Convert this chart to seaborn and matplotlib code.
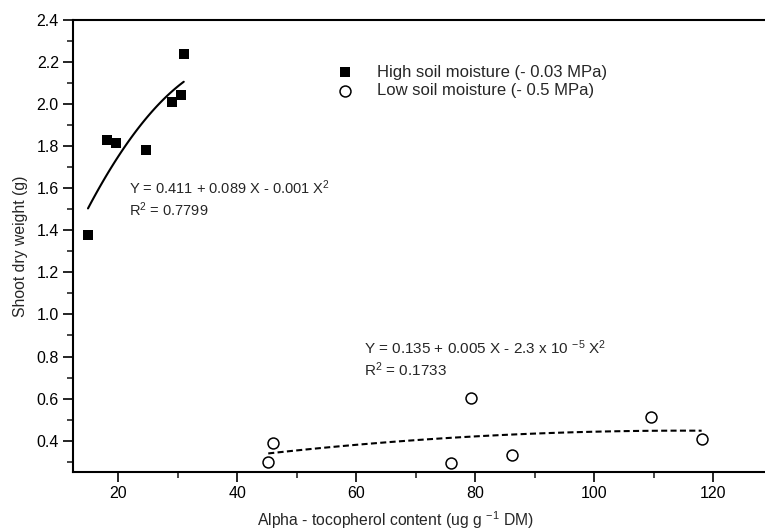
import matplotlib
matplotlib.use("Agg")
import matplotlib.pyplot as plt
from matplotlib.ticker import MultipleLocator
import seaborn as sns
import pandas as pd
import numpy as np

# ---- data ----
high_x = [14.9, 18.05, 19.6, 24.65, 29.1, 30.6, 31.0]
high_y = [1.38, 1.83, 1.815, 1.78, 2.01, 2.045, 2.24]
low_x = [45.2, 46.05, 75.9, 79.2, 86.1, 109.5, 118.05]
low_y = [0.30, 0.388, 0.293, 0.603, 0.332, 0.514, 0.407]
high_label = "High soil moisture (- 0.03 MPa)"
low_label = "Low soil moisture (- 0.5 MPa)"
eq_high = ["Y = 0.411 + 0.089 X - 0.001 X$^{2}$", "R$^{2}$ = 0.7799"]
eq_low = ["Y = 0.135 + 0.005 X - 2.3 x 10 $^{-5}$ X$^{2}$", "R$^{2}$ = 0.1733"]
x_ticks = [20, 40, 60, 80, 100, 120]
y_ticks = [0.4, 0.6, 0.8, 1.0, 1.2, 1.4, 1.6, 1.8, 2.0, 2.2, 2.4]

sns.set_style("ticks")
plt.rcParams["font.family"] = ["Liberation Sans", "DejaVu Sans"]
plt.rcParams["mathtext.fontset"] = "custom"
plt.rcParams["mathtext.rm"] = "Liberation Sans"
plt.rcParams["mathtext.it"] = "Liberation Sans"
plt.rcParams["mathtext.bf"] = "Liberation Sans:bold"
plt.rcParams["mathtext.default"] = "regular"

df_high = pd.DataFrame({"x": high_x, "y": high_y})
df_low = pd.DataFrame({"x": low_x, "y": low_y})

W, H = 765, 531
fig = plt.figure(figsize=(W / 100, H / 100), dpi=100)
ax = fig.add_axes([72.7 / W, 59 / H, 1 - 72.7 / W, 452 / H])

sns.scatterplot(data=df_high, x="x", y="y", ax=ax, marker="s", s=62,
                color="black", edgecolor="black", linewidth=0, label=high_label, zorder=3)
sns.scatterplot(data=df_low, x="x", y="y", ax=ax, marker="o", s=62,
                facecolor="white", edgecolor="black", linewidth=1.1, label=low_label, zorder=3)

sns.regplot(data=df_high, x="x", y="y", order=2, ci=None, scatter=False, ax=ax,
            line_kws=dict(color="black", lw=1.5))
sns.regplot(data=df_low, x="x", y="y", order=2, ci=None, scatter=False, ax=ax,
            line_kws=dict(color="black", lw=1.5, linestyle=(0, (2.9, 1.6))))

ax.set_xlim(12.33, 128.7)
ax.set_ylim(0.251, 2.4)
ax.set_xticks(x_ticks)
ax.set_yticks(y_ticks)
ax.set_xticklabels([str(v) for v in x_ticks])
ax.set_yticklabels([f"{v:.1f}" for v in y_ticks])
ax.xaxis.set_minor_locator(MultipleLocator(10))
ax.yaxis.set_minor_locator(MultipleLocator(0.1))
ax.tick_params(axis="both", which="major", direction="out", length=7, width=1.2,
               labelsize=11.5, pad=3, colors="black")
ax.tick_params(axis="both", which="minor", direction="out", length=4, width=1.2)
ax.tick_params(axis="x", which="both", top=False)
ax.tick_params(axis="y", which="both", right=False)

for side in ["left", "bottom", "top"]:
    ax.spines[side].set_visible(True)
    ax.spines[side].set_linewidth(1.5)
    ax.spines[side].set_color("black")
ax.spines["right"].set_visible(False)

ax.set_xlabel("Alpha - tocopherol content (ug g $^{-1}$ DM)", fontsize=11.3)
ax.set_ylabel("Shoot dry weight (g)", fontsize=11.3)
ax.xaxis.set_label_coords((395.5 - 72.7) / (W - 72.7), -37 / 452)
ax.yaxis.set_label_coords(-45 / (W - 72.7), 0.5)

ax.text(21.8, 1.571, eq_high[0], fontsize=10.5, ha="left", va="baseline")
ax.text(21.8, 1.468, eq_high[1], fontsize=10.5, ha="left", va="baseline")
ax.text(61.26, 0.812, eq_low[0], fontsize=11, ha="left", va="baseline")
ax.text(61.26, 0.708, eq_low[1], fontsize=11, ha="left", va="baseline")

ax.legend(loc="upper left", bbox_to_anchor=(337 / W, 1 - 64.5 / H),
          bbox_transform=fig.transFigure, frameon=False, fontsize=12,
          handlelength=1.0, handletextpad=1.38, labelspacing=0.22,
          borderpad=0, borderaxespad=0)

fig.savefig("out.png", dpi=100)
